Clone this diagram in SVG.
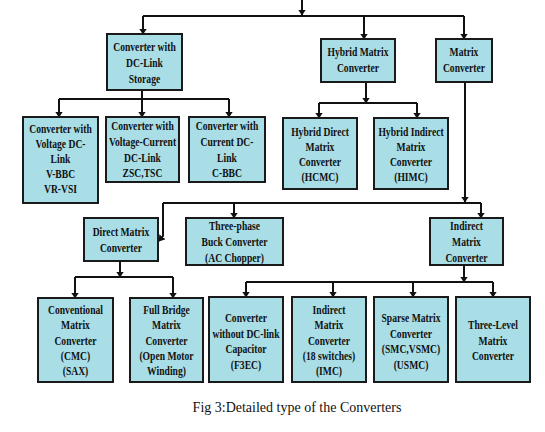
<svg xmlns="http://www.w3.org/2000/svg" width="545" height="432" viewBox="0 0 545 432">
<defs>
<marker id="ah" markerWidth="6" markerHeight="8" refX="5.5" refY="4" orient="auto" markerUnits="userSpaceOnUse" viewBox="0 0 6 8">
<path d="M0,0 L6,4 L0,8 Z" fill="#111"/>
</marker>
<style>
.b{fill:#a9dee7;stroke:#1a1a1a;stroke-width:2}
.t{font-family:"Liberation Serif","Times New Roman",serif;font-weight:bold;font-size:13px;fill:#111;text-anchor:middle}
.c{fill:none;stroke:#111;stroke-width:2}
.a{marker-end:url(#ah)}
.cap{font-family:"Liberation Serif","Times New Roman",serif;font-size:14px;fill:#111;text-anchor:middle}
</style>
</defs>
<rect width="545" height="432" fill="#fff"/>
<g id="connectors">
<line class="c a" x1="302" y1="0" x2="302" y2="15"/>
<polyline class="c" points="143,16 464,16"/>
<line class="c a" x1="143" y1="16" x2="143" y2="34"/>
<line class="c a" x1="364" y1="16" x2="364" y2="39"/>
<line class="c a" x1="464" y1="16" x2="464" y2="39"/>
<line class="c" x1="142" y1="90" x2="142" y2="99"/>
<line class="c" x1="59" y1="99" x2="229" y2="99"/>
<line class="c a" x1="59" y1="99" x2="59" y2="117"/>
<line class="c a" x1="142" y1="99" x2="142" y2="117"/>
<line class="c a" x1="229" y1="99" x2="229" y2="117"/>
<line class="c a" x1="366" y1="82" x2="366" y2="103"/>
<line class="c" x1="319" y1="103" x2="417" y2="103"/>
<line class="c a" x1="319" y1="103" x2="319" y2="118"/>
<line class="c a" x1="417" y1="103" x2="417" y2="118"/>
<line class="c a" x1="465" y1="82" x2="465" y2="202"/>
<line class="c" x1="163" y1="203" x2="481" y2="203"/>
<polyline class="c a" points="163,203 163,236 159,241"/>
<line class="c a" x1="234" y1="203" x2="234" y2="218"/>
<line class="c a" x1="481" y1="203" x2="481" y2="218"/>
<line class="c" x1="120" y1="261" x2="120" y2="277"/>
<line class="c" x1="75" y1="277" x2="173" y2="277"/>
<line class="c a" x1="120" y1="261" x2="120" y2="277"/>
<line class="c a" x1="75" y1="277" x2="75" y2="298"/>
<line class="c a" x1="173" y1="277" x2="173" y2="298"/>
<line class="c a" x1="464" y1="265" x2="464" y2="282"/>
<line class="c" x1="246" y1="282" x2="493" y2="282"/>
<line class="c a" x1="246" y1="282" x2="246" y2="297"/>
<line class="c a" x1="333" y1="282" x2="333" y2="297"/>
<line class="c a" x1="413" y1="282" x2="413" y2="297"/>
<line class="c a" x1="493" y1="282" x2="493" y2="297"/>
</g>
<g id="n-dclink">
<rect class="b" x="107" y="34" width="75" height="56"/>
<g transform="translate(144.5,0) scale(0.74,1)"><text class="t" x="0" y="51">Converter with</text><text class="t" x="0" y="67">DC-Link</text><text class="t" x="0" y="83">Storage</text></g>
</g>
<g id="n-hybrid">
<rect class="b" x="321" y="39" width="74" height="43"/>
<g transform="translate(358,0) scale(0.74,1)"><text class="t" x="0" y="56.5">Hybrid Matrix</text><text class="t" x="0" y="72.5">Converter</text></g>
</g>
<g id="n-matrix">
<rect class="b" x="436" y="39" width="56" height="43"/>
<g transform="translate(464,0) scale(0.74,1)"><text class="t" x="0" y="56.5">Matrix</text><text class="t" x="0" y="72.5">Converter</text></g>
</g>
<g id="n-vdc">
<rect class="b" x="23" y="117" width="75" height="86"/>
<g transform="translate(60.5,0) scale(0.74,1)"><text class="t" x="0" y="133.5">Converter with</text><text class="t" x="0" y="148.5">Voltage DC-</text><text class="t" x="0" y="163.5">Link</text><text class="t" x="0" y="178.5">V-BBC</text><text class="t" x="0" y="193">VR-VSI</text></g>
</g>
<g id="n-vcdc">
<rect class="b" x="106" y="117" width="73" height="65"/>
<g transform="translate(142.5,0) scale(0.74,1)"><text class="t" x="0" y="130.5">Converter with</text><text class="t" x="0" y="146">Voltage-Current</text><text class="t" x="0" y="162">DC-Link</text><text class="t" x="0" y="177">ZSC,TSC</text></g>
</g>
<g id="n-cdc">
<rect class="b" x="189" y="117" width="76" height="65"/>
<g transform="translate(227,0) scale(0.74,1)"><text class="t" x="0" y="130.5">Converter with</text><text class="t" x="0" y="146">Current DC-</text><text class="t" x="0" y="162">Link</text><text class="t" x="0" y="177">C-BBC</text></g>
</g>
<g id="n-hcmc">
<rect class="b" x="283" y="118" width="74" height="71"/>
<g transform="translate(320,0) scale(0.74,1)"><text class="t" x="0" y="136">Hybrid Direct</text><text class="t" x="0" y="151">Matrix</text><text class="t" x="0" y="166">Converter</text><text class="t" x="0" y="181.5">(HCMC)</text></g>
</g>
<g id="n-himc">
<rect class="b" x="374" y="118" width="74" height="71"/>
<g transform="translate(411,0) scale(0.74,1)"><text class="t" x="0" y="136">Hybrid Indirect</text><text class="t" x="0" y="151">Matrix</text><text class="t" x="0" y="166">Converter</text><text class="t" x="0" y="181.5">(HIMC)</text></g>
</g>
<g id="n-direct">
<rect class="b" x="84" y="218" width="74" height="43"/>
<g transform="translate(121,0) scale(0.74,1)"><text class="t" x="0" y="236">Direct Matrix</text><text class="t" x="0" y="252">Converter</text></g>
</g>
<g id="n-buck">
<rect class="b" x="186" y="218" width="97" height="47"/>
<g transform="translate(234.5,0) scale(0.74,1)"><text class="t" x="0" y="230">Three-phase</text><text class="t" x="0" y="246">Buck Converter</text><text class="t" x="0" y="262">(AC Chopper)</text></g>
</g>
<g id="n-indirect">
<rect class="b" x="430" y="218" width="73" height="47"/>
<g transform="translate(466.5,0) scale(0.74,1)"><text class="t" x="0" y="230">Indirect</text><text class="t" x="0" y="246">Matrix</text><text class="t" x="0" y="262">Converter</text></g>
</g>
<g id="n-cmc">
<rect class="b" x="38" y="298" width="75" height="84"/>
<g transform="translate(75.5,0) scale(0.74,1)"><text class="t" x="0" y="314.5">Conventional</text><text class="t" x="0" y="329.5">Matrix</text><text class="t" x="0" y="345.5">Converter</text><text class="t" x="0" y="360.5">(CMC)</text><text class="t" x="0" y="375">(SAX)</text></g>
</g>
<g id="n-fullbridge">
<rect class="b" x="130" y="298" width="73" height="84"/>
<g transform="translate(166.5,0) scale(0.74,1)"><text class="t" x="0" y="314.5">Full Bridge</text><text class="t" x="0" y="329.5">Matrix</text><text class="t" x="0" y="345.5">Converter</text><text class="t" x="0" y="360.5">(Open Motor</text><text class="t" x="0" y="375">Winding)</text></g>
</g>
<g id="n-f3ec">
<rect class="b" x="209" y="297" width="74" height="85"/>
<g transform="translate(246,0) scale(0.74,1)"><text class="t" x="0" y="322">Converter</text><text class="t" x="0" y="338">without DC-link</text><text class="t" x="0" y="353.5">Capacitor</text><text class="t" x="0" y="369">(F3EC)</text></g>
</g>
<g id="n-imc">
<rect class="b" x="292" y="297" width="74" height="85"/>
<g transform="translate(329,0) scale(0.74,1)"><text class="t" x="0" y="314.5">Indirect</text><text class="t" x="0" y="329.5">Matrix</text><text class="t" x="0" y="345.5">Converter</text><text class="t" x="0" y="360.5">(18 switches)</text><text class="t" x="0" y="375.5">(IMC)</text></g>
</g>
<g id="n-smc">
<rect class="b" x="374" y="297" width="74" height="85"/>
<g transform="translate(411,0) scale(0.74,1)"><text class="t" x="0" y="322">Sparse Matrix</text><text class="t" x="0" y="338">Converter</text><text class="t" x="0" y="353.5">(SMC,VSMC)</text><text class="t" x="0" y="369">(USMC)</text></g>
</g>
<g id="n-threelevel">
<rect class="b" x="456" y="297" width="74" height="85"/>
<g transform="translate(493,0) scale(0.74,1)"><text class="t" x="0" y="329.5">Three-Level</text><text class="t" x="0" y="345">Matrix</text><text class="t" x="0" y="360.5">Converter</text></g>
</g>
<text class="cap" x="297" y="412">Fig 3:Detailed type of the Converters</text>
</svg>
